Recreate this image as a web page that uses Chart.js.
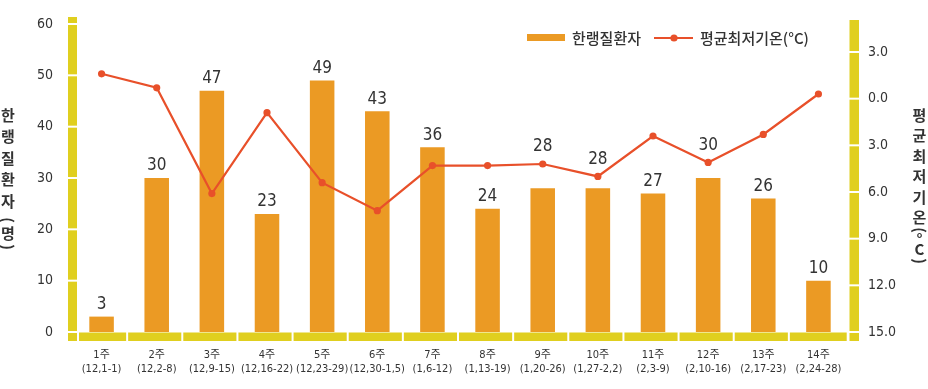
<!DOCTYPE html>
<html>
<head>
<meta charset="utf-8">
<script src="https://cdn.jsdelivr.net/npm/chart.js@4.4.0/dist/chart.umd.min.js"></script>
<style>
  html, body { margin: 0; padding: 0; background: #fff; }
</style>
</head>
<body>
<canvas id="mychart" width="928" height="389"></canvas>
<script>
// data
var weeks = ['1주', '2주', '3주', '4주', '5주', '6주', '7주', '8주', '9주', '10주', '11주', '12주', '13주', '14주'];
var dateRanges = ['(12,1-1)', '(12,2-8)', '(12,9-15)', '(12,16-22)', '(12,23-29)', '(12,30-1,5)', '(1,6-12)',
    '(1,13-19)', '(1,20-26)', '(1,27-2,2)', '(2,3-9)', '(2,10-16)', '(2,17-23)', '(2,24-28)'];
var patients = [3, 30, 47, 23, 49, 43, 36, 24, 28, 28, 27, 30, 26, 10];
var minTemps = [1.6, 0.7, -6.1, -0.9, -5.4, -7.2, -4.3, -4.3, -4.2, -5.0, -2.4, -4.1, -2.3, 0.3];
var leftTicks = [0, 10, 20, 30, 40, 50, 60];
var rightTicks = [-15, -12, -9, -6, -3, 0, 3];

var barColor = '#eb9a24';
var lineColor = '#e8502a';
var bandColor = '#e0cf1f';
var textColor = '#333';
var numFont = '"Liberation Sans Narrow", "DejaVu Sans Condensed", "Liberation Sans", "Noto Sans CJK KR", sans-serif';
var korFont = '"Noto Sans CJK KR", sans-serif';

// yellow segmented bands used as axes
const axisBands = {
    id: 'axisBands',
    beforeDatasetsDraw(chart) {
        const c = chart.ctx, a = chart.chartArea;
        const sy = chart.scales.y, sy2 = chart.scales.y2;
        c.save();
        c.fillStyle = bandColor;
        c.fillRect(a.left - 6, a.top - 7, 9, a.bottom + 9 - (a.top - 7));
        c.fillRect(a.right + 3.5, a.top - 4, 9.5, a.bottom + 9 - (a.top - 4));
        c.fillRect(a.left + 5, a.bottom + 0.5, a.right + 0.7 - (a.left + 5), 8.5);
        c.fillStyle = '#fff';
        leftTicks.forEach(v => {
            c.fillRect(a.left - 7, sy.getPixelForValue(v) - 1, 11, 2);
        });
        rightTicks.forEach(v => {
            c.fillRect(a.right + 3, sy2.getPixelForValue(v) - 1, 11, 2);
        });
        var step = (a.right - a.left) / weeks.length;
        for (var i = 1; i < weeks.length; i++) {
            c.fillRect(a.left + step * i - 3, a.bottom, 2, 10);
        }
        c.restore();
    }
};

// numbers above the bars, lifted over the line where it would hit them
const barLabels = {
    id: 'barLabels',
    afterDatasetsDraw(chart) {
        const c = chart.ctx;
        const bars = chart.getDatasetMeta(1).data;
        const pts = chart.getDatasetMeta(0).data;
        c.save();
        c.font = '17px ' + numFont;
        c.fillStyle = textColor;
        c.textAlign = 'center';
        c.textBaseline = 'middle';
        bars.forEach((el, i) => {
            var y = el.y - 12;
            var py = pts[i].y;
            if (py > el.y - 25 && py < el.y + 5) y = py - 17;
            c.fillText(String(patients[i]), el.x, y);
        });
        c.restore();
    }
};

// stacked vertical axis titles
function drawStack(c, x, items) {
    items.forEach(it => {
        c.save();
        c.translate(x, it[1]);
        if (it[2]) c.rotate(Math.PI / 2);
        c.fillText(it[0], 0, 0);
        c.restore();
    });
}
const axisTitles = {
    id: 'axisTitles',
    afterDraw(chart) {
        const c = chart.ctx;
        c.save();
        c.font = 'bold 15px ' + korFont;
        c.fillStyle = textColor;
        c.textAlign = 'center';
        c.textBaseline = 'middle';
        drawStack(c, 8, [['한', 115], ['랭', 136.5], ['질', 158], ['환', 179.5], ['자', 201],
            ['(', 220, true], ['명', 233], [')', 247, true]]);
        drawStack(c, 919.5, [['평', 115], ['균', 135.5], ['최', 156], ['저', 176.5], ['기', 197], ['온', 217.5],
            ['(', 230, true], ['°', 239], ['C', 249], [')', 261, true]]);
        c.restore();
    }
};

// legend: bar swatch and line with dot
const customLegend = {
    id: 'customLegend',
    afterDraw(chart) {
        const c = chart.ctx;
        const ds = chart.data.datasets;
        c.save();
        c.fillStyle = barColor;
        c.fillRect(527, 34, 38, 7);
        c.strokeStyle = lineColor;
        c.lineWidth = 2;
        c.beginPath();
        c.moveTo(654, 38);
        c.lineTo(693, 38);
        c.stroke();
        c.fillStyle = lineColor;
        c.beginPath();
        c.arc(674, 38, 3.6, 0, Math.PI * 2);
        c.fill();
        c.font = '500 15px ' + korFont;
        c.fillStyle = textColor;
        c.textBaseline = 'middle';
        c.fillText(ds[1].label, 572, 38);
        c.fillText(ds[0].label, 700, 38);
        c.restore();
    }
};

var ctx = document.getElementById('mychart').getContext('2d');
var myChart = new Chart(ctx, {
    type: 'bar',
    data: {
        labels: weeks.map((w, i) => [w, dateRanges[i]]),
        datasets: [{
            type: 'line',
            label: '평균최저기온(°C)',
            data: minTemps,
            yAxisID: 'y2',
            borderColor: lineColor,
            backgroundColor: lineColor,
            borderWidth: 2.2,
            pointRadius: 3.6,
            pointHoverRadius: 3.6,
            pointBorderWidth: 0,
            tension: 0,
            order: 0
        }, {
            type: 'bar',
            label: '한랭질환자',
            data: patients,
            yAxisID: 'y',
            backgroundColor: barColor,
            barPercentage: 0.445,
            categoryPercentage: 1,
            order: 1
        }]
    },
    options: {
        responsive: false,
        animation: false,
        layout: { padding: { top: 24, left: 0, right: 0, bottom: 0 } },
        plugins: {
            legend: { display: false },
            tooltip: { enabled: false }
        },
        scales: {
            x: {
                grid: { display: false, drawTicks: false },
                border: { display: false },
                ticks: {
                    padding: 17, color: textColor, maxRotation: 0, autoSkip: false,
                    font: { size: 11, family: numFont }
                },
                afterFit: s => { s.height = 57; }
            },
            y: {
                position: 'left',
                min: 0,
                max: 60,
                afterBuildTicks: s => { s.ticks = leftTicks.map(v => ({ value: v })); },
                grid: { display: false, drawTicks: false },
                border: { display: false },
                ticks: { padding: 21, color: textColor, font: { size: 14, family: numFont } },
                afterFit: s => { s.width = 74; s.paddingTop = 0; s.paddingBottom = 0; }
            },
            y2: {
                position: 'right',
                min: -15,
                max: 4.8,
                afterBuildTicks: s => { s.ticks = rightTicks.map(v => ({ value: v })); },
                grid: { display: false, drawTicks: false },
                border: { display: false },
                ticks: {
                    padding: 22, color: textColor, font: { size: 14, family: numFont },
                    callback: v => Math.abs(v).toFixed(1)
                },
                afterFit: s => { s.width = 82; s.paddingTop = 0; s.paddingBottom = 0; }
            }
        }
    },
    plugins: [axisBands, barLabels, axisTitles, customLegend]
});
</script>
</body>
</html>
